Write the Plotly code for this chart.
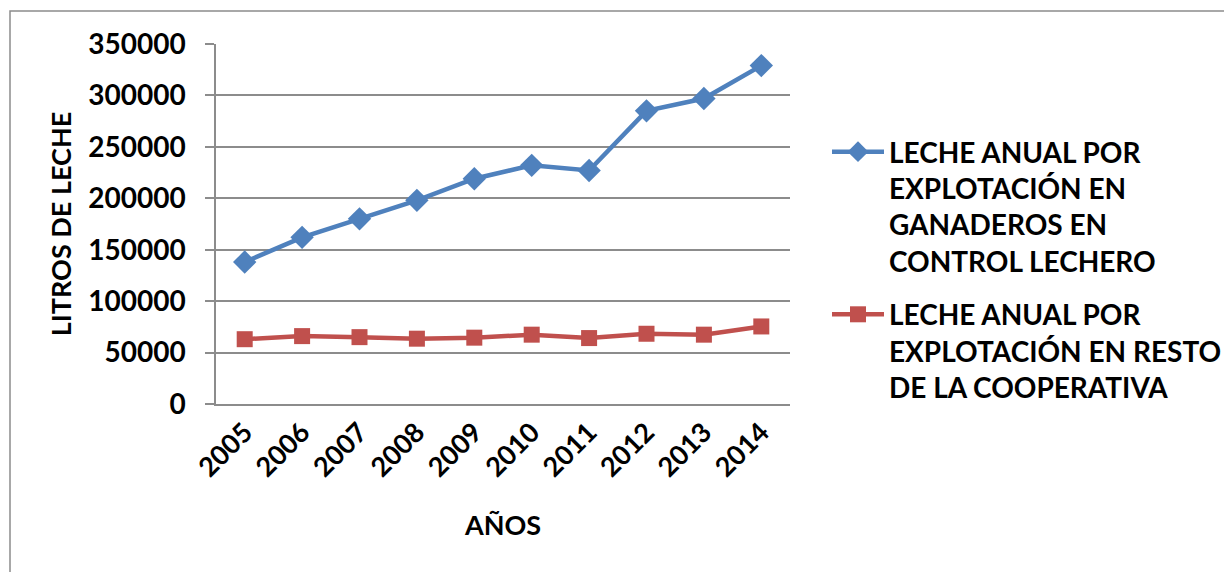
import plotly.graph_objects as go

years = ["2005", "2006", "2007", "2008", "2009", "2010", "2011", "2012", "2013", "2014"]
control_lechero = [138000, 162000, 180000, 198000, 219000, 232000, 227000, 285000, 297000, 329000]
resto_cooperativa = [63000, 66000, 65000, 63500, 64500, 67400, 64100, 68300, 67400, 75400]

name_control = "LECHE ANUAL POR<br>EXPLOTACIÓN EN<br>GANADEROS EN<br>CONTROL LECHERO"
name_resto = "LECHE ANUAL POR<br>EXPLOTACIÓN EN RESTO<br>DE LA COOPERATIVA"

y_ticks = [0, 50000, 100000, 150000, 200000, 250000, 300000, 350000]

BLUE = "#4F81BD"
RED = "#C0504D"
GRID = "#8C8C8C"
FONT = "Lato"

# page body adds an 8px offset; positions below are compensated
L, T, PW, PH = 208, 36, 574, 360

fig = go.Figure()
fig.add_trace(go.Scatter(
    x=years, y=control_lechero, name=name_control, mode="lines+markers",
    line=dict(color=BLUE, width=4.5), legendgroup="a",
    marker=dict(symbol="diamond", size=18, color=BLUE),
))
fig.add_trace(go.Scatter(
    x=years, y=resto_cooperativa, name=name_resto, mode="lines+markers",
    line=dict(color=RED, width=4.5), legendgroup="b",
    marker=dict(symbol="square", size=16, color=RED),
))

fig.update_layout(
    width=1232, height=572,
    margin=dict(l=L, r=1232 - L - PW, t=T, b=572 - T - PH, autoexpand=False),
    paper_bgcolor="white", plot_bgcolor="white",
    font=dict(family=FONT, color="black", size=28, weight=700),
    showlegend=True,
    legend=dict(
        xref="container", yref="container",
        x=819 / 1232, xanchor="left", y=1 - 119 / 572, yanchor="top",
        font=dict(family=FONT, size=28, weight=700, color="black"),
        traceorder="grouped", tracegroupgap=14, itemwidth=52, valign="top",
        bgcolor="rgba(0,0,0,0)",
    ),
    xaxis=dict(
        type="category", tickangle=-45, showgrid=False,
        showline=True, linecolor=GRID, linewidth=1.5, ticks="",
        tickfont=dict(family=FONT, size=27, weight=700),
        title=dict(text="AÑOS", font=dict(family=FONT, size=27, weight=700), standoff=34),
        range=[-0.5, 9.5], automargin=False,
    ),
    yaxis=dict(
        range=[0, 350000], tickvals=y_ticks, ticktext=[str(v) for v in y_ticks],
        showgrid=True, gridcolor=GRID, gridwidth=1.5,
        showline=True, linecolor=GRID, linewidth=1.5,
        ticks="outside", ticklen=9, tickcolor=GRID, tickwidth=1.5,
        ticklabelstandoff=14,
        tickfont=dict(family=FONT, size=28, weight=700),
        title=dict(text="LITROS DE LECHE", font=dict(family=FONT, size=27, weight=700), standoff=9),
        zeroline=False, automargin=False,
    ),
    shapes=[dict(
        type="rect", xref="paper", yref="paper",
        x0=(2 - L) / PW, x1=(1250 - L) / PW,
        y0=-0.6, y1=(T + PH - 3) / PH,
        line=dict(color=GRID, width=1.5), fillcolor="rgba(0,0,0,0)", layer="below",
    )],
)

fig.write_html("out.html")
